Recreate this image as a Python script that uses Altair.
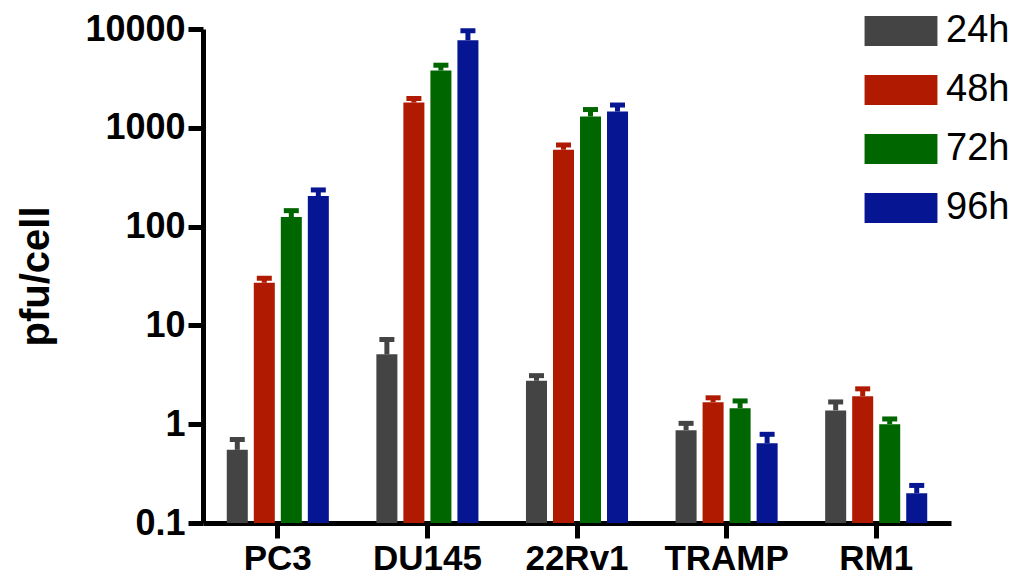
import altair as alt
import pandas as pd

cells = ["PC3", "DU145", "22Rv1", "TRAMP", "RM1"]
times = ["24h", "48h", "72h", "96h"]
colors = ["#444444", "#B01A00", "#006600", "#061592"]

mean_24h = [0.55, 5.1, 2.75, 0.87, 1.38]
mean_48h = [27, 1800, 600, 1.67, 1.92]
mean_72h = [125, 3800, 1300, 1.45, 1.0]
mean_96h = [204, 7700, 1460, 0.64, 0.20]

upper_24h = [0.70, 7.2, 3.1, 1.02, 1.68]
upper_48h = [30, 1980, 670, 1.85, 2.28]
upper_72h = [145, 4300, 1530, 1.72, 1.13]
upper_96h = [235, 9600, 1700, 0.79, 0.24]

means = [mean_24h, mean_48h, mean_72h, mean_96h]
uppers = [upper_24h, upper_48h, upper_72h, upper_96h]

rows = []
for t, m, u in zip(times, means, uppers):
    for c, mv, uv in zip(cells, m, u):
        rows.append({"cell": c, "time": t, "value": mv, "upper": uv})
df = pd.DataFrame(rows)

FONT = "Liberation Sans"

x = alt.X(
    "cell:N",
    sort=cells,
    scale=alt.Scale(paddingInner=0, paddingOuter=0),
    axis=alt.Axis(
        title=None,
        labelAngle=0,
        labelFont=FONT,
        labelFontSize=35,
        labelFontWeight="bold",
        labelColor="black",
        labelPadding=3,
        domainColor="black",
        domainWidth=5,
        tickColor="black",
        tickWidth=5,
        tickSize=15,
    ),
)
xo = alt.XOffset(
    "time:N", sort=times, scale=alt.Scale(paddingInner=0.222, paddingOuter=0.88)
)
y_axis = alt.Axis(
    values=[0.1, 1, 10, 100, 1000, 10000],
    format="~g",
    title="pfu/cell",
    titleFont=FONT,
    titleFontSize=40,
    titleFontWeight="bold",
    titleColor="black",
    titlePadding=28,
    labelFont=FONT,
    labelFontSize=36,
    labelFontWeight="bold",
    labelColor="black",
    labelPadding=3,
    domainColor="black",
    domainWidth=5,
    tickColor="black",
    tickWidth=5,
    tickSize=15,
    grid=False,
)
yscale = alt.Scale(type="log", domain=[0.1, 10000])
color_scale = alt.Scale(domain=times, range=colors)

legend = alt.Legend(
    title=None,
    orient="none",
    legendX=679,
    legendY=-17,
    labelFont=FONT,
    labelFontSize=38,
    labelColor="black",
    symbolType="M-1.97,-0.81H1.97V0.81H-1.97Z",
    symbolSize=1369,
    symbolStrokeWidth=0,
    symbolOpacity=1,
    rowPadding=21,
    labelOffset=26,
)

base = alt.Chart(df)
bars = base.mark_bar(opacity=1).encode(
    x=x,
    xOffset=xo,
    y=alt.Y("value:Q", scale=yscale, axis=y_axis, stack=None),
    y2=alt.datum(0.1),
    color=alt.Color("time:N", scale=color_scale, legend=legend),
)
stems = base.mark_rule(strokeWidth=5, opacity=1).encode(
    x=x,
    xOffset=xo,
    y=alt.Y("value:Q", scale=yscale, axis=y_axis),
    y2="upper:Q",
    color=alt.Color("time:N", scale=color_scale, legend=None),
)
caps = base.mark_tick(thickness=5, size=15, orient="horizontal", opacity=1).encode(
    x=x,
    xOffset=xo,
    y=alt.Y("upper:Q", scale=yscale, axis=y_axis),
    color=alt.Color("time:N", scale=color_scale, legend=None),
)

chart = (
    alt.layer(bars, stems, caps)
    .properties(
        width=748,
        height=494,
        autosize=alt.AutoSizeParams(type="none"),
        padding={"left": 203, "top": 29, "right": 67, "bottom": 53},
        background="white",
    )
    .configure_view(strokeWidth=0)
)

chart.save("out.html", embed_options={"renderer": "svg", "actions": False})
